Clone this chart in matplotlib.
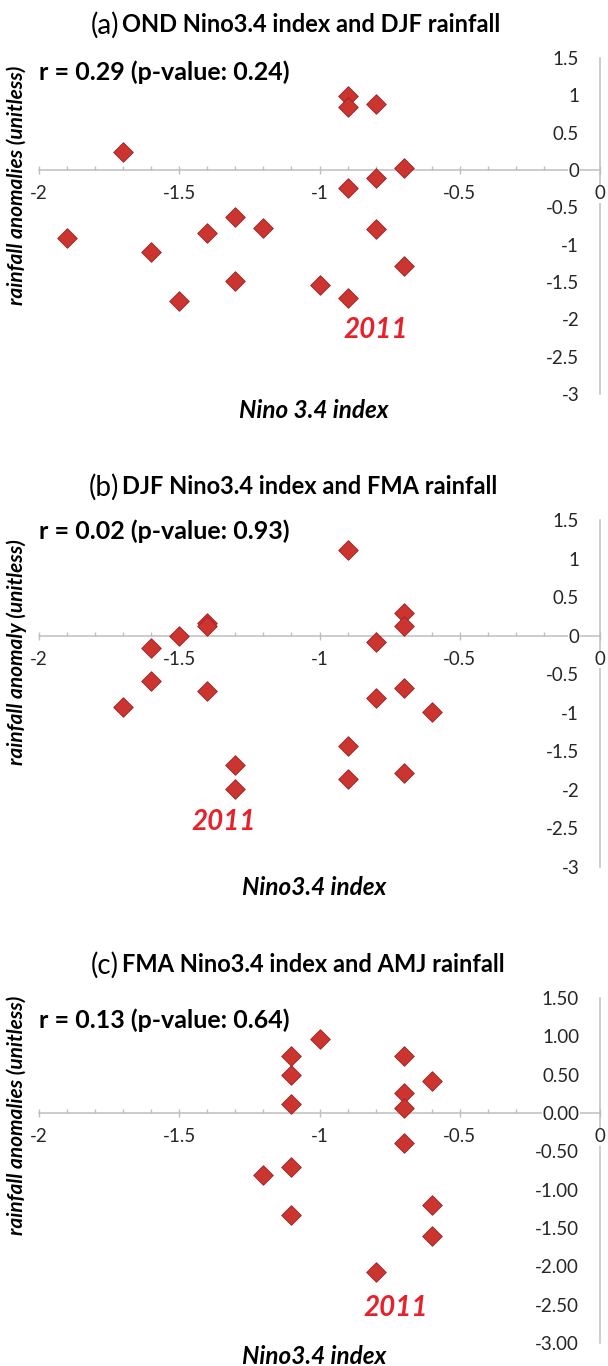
import matplotlib.pyplot as plt

plt.rcParams['font.family'] = ['Lato', 'DejaVu Sans']
plt.rcParams['axes.unicode_minus'] = False

# --- data ---
x_a = [-1.9, -1.7, -1.6, -1.5, -1.4, -1.3, -1.3, -1.2, -1.0,
       -0.9, -0.9, -0.9, -0.9, -0.8, -0.8, -0.8, -0.7, -0.7]
y_a = [-0.91, 0.24, -1.10, -1.75, -0.84, -0.63, -1.48, -0.78, -1.54,
       0.99, 0.85, -0.24, -1.71, 0.88, -0.11, -0.79, 0.03, -1.28]

x_b = [-1.7, -1.6, -1.6, -1.5, -1.4, -1.4, -1.4, -1.3, -1.3, -0.9,
       -0.9, -0.9, -0.8, -0.8, -0.7, -0.7, -0.7, -0.7, -0.6]
y_b = [-0.93, -0.16, -0.59, 0.0, 0.16, 0.12, -0.72, -1.68, -1.99, 1.11,
       -1.43, -1.86, -0.08, -0.81, 0.30, 0.13, -0.68, -1.78, -0.99]

x_c = [-1.2, -1.1, -1.1, -1.1, -1.1, -1.1, -1.0, -0.8,
       -0.7, -0.7, -0.7, -0.7, -0.6, -0.6, -0.6]
y_c = [-0.81, 0.75, 0.49, 0.12, -0.70, -1.33, 0.96, -2.07,
       0.75, 0.26, 0.07, -0.39, 0.42, -1.20, -1.61]

panel_tags = ['(a)', '(b)', '(c)']
titles = ['OND Nino3.4 index and DJF rainfall',
          'DJF Nino3.4 index and FMA rainfall',
          'FMA Nino3.4 index and AMJ rainfall']
stats = ['r = 0.29 (p-value: 0.24)',
         'r = 0.02 (p-value: 0.93)',
         'r = 0.13 (p-value: 0.64)']
xlabels = ['Nino 3.4 index', 'Nino3.4 index', 'Nino3.4 index']
ylabels = ['rainfall anomalies (unitless)',
           'rainfall anomaly (unitless)',
           'rainfall anomalies (unitless)']
year_label = '2011'
year_pos = [(-0.80, -2.14), (-1.34, -2.42), (-0.73, -2.55)]

xticks = [-2, -1.5, -1, -0.5, 0]
xtick_labels = ['-2', '-1.5', '-1', '-0.5', '0']
yticks = [1.5, 1, 0.5, 0, -0.5, -1, -1.5, -2, -2.5, -3]
ytick_labels_ab = ['1.5', '1', '0.5', '0', '-0.5', '-1', '-1.5', '-2', '-2.5', '-3']
ytick_labels_c = ['1.50', '1.00', '0.50', '0.00', '-0.50', '-1.00',
                  '-1.50', '-2.00', '-2.50', '-3.00']

xs = [x_a, x_b, x_c]
ys = [y_a, y_b, y_c]
ytl = [ytick_labels_ab, ytick_labels_ab, ytick_labels_c]

# layout in pixels (top of 1.5, bottom of -3)
W, H = 608, 1366
boxes = [(58, 394), (520, 867), (998, 1343)]
stat_y = [1.31, 1.35, 1.21]
xlab_y = [-0.048, -0.06, -0.038]
ylab_y = [0.62, 0.62, 0.66]

fig = plt.figure(figsize=(W / 100, H / 100), dpi=100)
grey = '#BFBFBF'
txt = '#262626'

for i in range(3):
    top, bot = boxes[i]
    ax = fig.add_axes([39 / W, 1 - bot / H, (600 - 39) / W, (bot - top) / H])
    ax.scatter(xs[i], ys[i], marker='D', s=100, color='#CC3430',
               edgecolor='#9C2222', linewidth=0.6, zorder=4)
    ax.set_xlim(-2, 0)
    ax.set_ylim(-3, 1.5)

    for s in ['top', 'right']:
        ax.spines[s].set_visible(False)
    ax.spines['left'].set_position(('data', 0))
    ax.spines['bottom'].set_position(('data', 0))
    for s in ['left', 'bottom']:
        ax.spines[s].set_color(grey)
        ax.spines[s].set_linewidth(1.1)

    ax.set_xticks(xticks, xtick_labels)
    ax.set_xticks([v / 10 for v in range(-19, 0) if v % 5 != 0], minor=True)
    ax.tick_params(axis='x', which='major', direction='inout', length=6,
                   color=grey, width=1, labelsize=13.5, labelcolor=txt, pad=8)
    ax.tick_params(axis='x', which='minor', direction='in', length=3,
                   color=grey, width=1)
    ax.set_yticks(yticks, ytl[i])
    ax.tick_params(axis='y', length=0, labelsize=13.5, labelcolor=txt, pad=15)
    ax.xaxis.set_zorder(3)
    ax.yaxis.set_zorder(3)
    for lab in ax.get_yticklabels() + ax.get_xticklabels():
        lab.set_bbox(dict(facecolor='white', edgecolor='none', pad=0.3))

    # titles and annotations
    ty = 1 + 33 / (bot - top)
    ax.text(0.143, ty, panel_tags[i], transform=ax.transAxes,
            ha='right', va='center', fontsize=20, color='black')
    ax.text(0.148, ty, titles[i], transform=ax.transAxes,
            ha='left', va='center', fontsize=17, fontweight='bold', color='black')
    ax.text(-2.0, stat_y[i], stats[i], ha='left', va='center', fontsize=18,
            fontweight='bold', color='black')
    ax.text(0.49, xlab_y[i], xlabels[i], transform=ax.transAxes, ha='center',
            va='center', fontsize=17.5, fontweight='bold', style='italic', color='black')
    ax.text(-0.04, ylab_y[i], ylabels[i], transform=ax.transAxes, ha='center',
            va='center', rotation=90, fontsize=15, fontweight='bold',
            style='italic', color='black')
    ax.text(year_pos[i][0], year_pos[i][1], year_label, ha='center', va='center',
            fontsize=20, fontweight='bold', style='italic', color='#E8202A')

fig.savefig('out.png', dpi=100)
